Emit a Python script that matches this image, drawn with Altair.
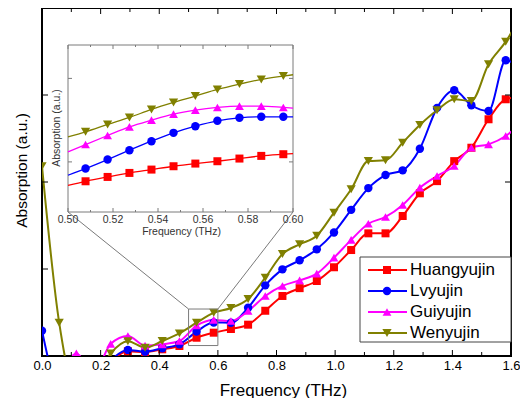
import altair as alt
import pandas as pd

# ---------------- data ----------------
series = ["Huangyujin", "Lvyujin", "Guiyujin", "Wenyujin"]
colors = ["#ff0000", "#0000ff", "#ff00ff", "#808000"]
shapes = ["square", "circle", "triangle-up", "triangle-down"]

freq = [0.0, 0.0586, 0.1172, 0.1758, 0.2344, 0.293, 0.3516, 0.4102, 0.4688, 0.5273,
        0.5859, 0.6445, 0.7031, 0.7617, 0.8203, 0.8789, 0.9375, 0.9961, 1.0547, 1.1133,
        1.1719, 1.2305, 1.2891, 1.3477, 1.4063, 1.4648, 1.5234, 1.582, 1.6406]

huangyujin = [-0.3, -0.6, -0.5, -0.4, -0.08, 0.055, 0.045, 0.077, 0.115, 0.21,
              0.268, 0.31, 0.36, 0.52, 0.69, 0.78, 0.862, 1.02, 1.218, 1.41,
              1.41, 1.609, 1.87, 2.01, 2.24, 2.394, 2.721, 2.951, 2.98]
lvyujin = [0.29, -0.4, -0.5, -0.3, -0.05, 0.07, 0.05, 0.09, 0.134, 0.28,
           0.385, 0.383, 0.555, 0.812, 0.996, 1.1, 1.226, 1.42, 1.68, 1.93,
           2.08, 2.134, 2.383, 2.852, 3.054, 2.882, 2.816, 3.399, 3.25]
guiyujin = [-0.3, -0.2, 0.03, -0.2, 0.14, 0.23, 0.12, 0.134, 0.172, 0.35,
            0.415, 0.402, 0.517, 0.69, 0.805, 0.87, 0.946, 1.13, 1.335, 1.52,
            1.598, 1.736, 1.935, 2.069, 2.184, 2.394, 2.433, 2.529, 2.7]
wenyujin = [2.18, 0.383, -0.4, -0.3, 0.03, 0.17, 0.095, 0.172, 0.26, 0.383,
            0.497, 0.552, 0.655, 0.9, 1.172, 1.284, 1.383, 1.647, 1.916, 2.241,
            2.249, 2.452, 2.655, 2.824, 2.951, 2.931, 3.353, 3.613, 3.95]

# inset (zoom of 0.50-0.60 THz)
inset_freq = [0.5, 0.5078, 0.5176, 0.5273, 0.5371, 0.5469, 0.5566, 0.5664, 0.5762, 0.5859, 0.5957, 0.6]
inset_huangyujin = [0.180, 0.192, 0.205, 0.217, 0.227, 0.237, 0.245, 0.252, 0.260, 0.268, 0.273, 0.275]
inset_lvyujin = [0.210, 0.230, 0.257, 0.285, 0.312, 0.337, 0.357, 0.373, 0.382, 0.385, 0.385, 0.385]
inset_guiyujin = [0.280, 0.302, 0.329, 0.355, 0.375, 0.393, 0.405, 0.413, 0.417, 0.417, 0.413, 0.411]
inset_wenyujin = [0.325, 0.340, 0.362, 0.383, 0.407, 0.428, 0.447, 0.467, 0.483, 0.497, 0.507, 0.511]

x_major = [0.0, 0.2, 0.4, 0.6, 0.8, 1.0, 1.2, 1.4, 1.6]
x_minor = [0.1, 0.3, 0.5, 0.7, 0.9, 1.1, 1.3, 1.5]
y_ticks = [1, 2, 3]
inset_x_major = [0.50, 0.52, 0.54, 0.56, 0.58, 0.60]
inset_x_minor = [0.51, 0.53, 0.55, 0.57, 0.59]
inset_y_ticks = [0.25, 0.5]
zoom_box = {"x0": 0.5, "x1": 0.6, "y0": 0.12, "y1": 0.54}

# ---------------- tables ----------------
main_vals = [huangyujin, lvyujin, guiyujin, wenyujin]
inset_vals = [inset_huangyujin, inset_lvyujin, inset_guiyujin, inset_wenyujin]
df_main = pd.DataFrame([{"series": s, "freq": f, "val": v}
                        for s, vals in zip(series, main_vals) for f, v in zip(freq, vals)])
df_inset = pd.DataFrame([{"series": s, "freq": f, "val": v}
                         for s, vals in zip(series, inset_vals) for f, v in zip(inset_freq, vals)])
df_leg = pd.DataFrame({"series": series})

W, H = 469, 348
IL, IR, IT, IB = 26, 251, 37, 204  # inset placement (pixels inside plot)

xs_main = alt.Scale(domain=[0, 1.6], nice=False, zero=False)
ys_main = alt.Scale(domain=[0, 4], nice=False, zero=False)
xs_in = alt.Scale(domain=[0.5, 0.6], range=[IL, IR], nice=False, zero=False)
ys_in = alt.Scale(domain=[0.1, 0.6], range=[IB, IT], nice=False, zero=False)

color_enc = alt.Color("series:N", scale=alt.Scale(domain=series, range=colors), legend=None)
shape_enc = alt.Shape("series:N", scale=alt.Scale(domain=series, range=shapes), legend=None)
size_enc = alt.Size("series:N", scale=alt.Scale(domain=series, range=[64, 85, 95, 95]), legend=None)
size_in = alt.Size("series:N", scale=alt.Scale(domain=series, range=[13, 17, 18, 18]), legend=None)

# ---------------- main series ----------------
main_lines = alt.Chart(df_main).mark_line(interpolate="monotone", strokeWidth=2, clip=True).encode(
    x=alt.X("freq:Q", scale=xs_main,
            axis=alt.Axis(values=x_major, format=".1f", labelFontSize=13, labelColor="black",
                          labelPadding=3, labelFlush=False, labelOverlap=False, ticks=False,
                          domain=False, grid=False, title="Frequency (THz)", titleFontSize=17,
                          titleFontWeight="normal", titleColor="black", titleX=241, titleY=39,
                          titleBaseline="alphabetic")),
    y=alt.Y("val:Q", scale=ys_main,
            axis=alt.Axis(labels=False, ticks=False, domain=False, grid=False,
                          title="Absorption (a.u.)", titleFontSize=15.5, titleFontWeight="normal",
                          titleColor="black", titleX=-21, titleY=162, titleBaseline="middle",
                          titleAngle=270)),
    color=color_enc,
)
main_points = alt.Chart(df_main).mark_point(filled=True, opacity=1, clip=True).encode(
    x=alt.X("freq:Q", scale=xs_main, axis=None),
    y=alt.Y("val:Q", scale=ys_main, axis=None),
    color=color_enc, shape=shape_enc, size=size_enc,
)

# ---------------- main inward ticks ----------------
def xticks(vals, y0, y1, scale, color="black"):
    return alt.Chart(pd.DataFrame({"t": vals})).mark_rule(color=color, strokeWidth=1).encode(
        x=alt.X("t:Q", scale=scale, axis=None), y=alt.value(y0), y2=alt.value(y1))

def yticks(vals, x0, x1, scale, color="black"):
    return alt.Chart(pd.DataFrame({"t": vals})).mark_rule(color=color, strokeWidth=1).encode(
        y=alt.Y("t:Q", scale=scale, axis=None), x=alt.value(x0), x2=alt.value(x1))

main_ticks = [
    xticks(x_major, H, H - 6, xs_main), xticks(x_minor, H, H - 4, xs_main),
    xticks(x_major, 0, 6, xs_main), xticks(x_minor, 0, 4, xs_main),
    yticks(y_ticks, 0, 6, ys_main), yticks(y_ticks, W, W - 6, ys_main),
]

# ---------------- zoom box + connectors ----------------
df_box = pd.DataFrame([zoom_box])
box = alt.Chart(df_box).mark_rect(fill=None, stroke="#7a7a7a", strokeWidth=1).encode(
    x=alt.X("x0:Q", scale=xs_main, axis=None), x2="x1:Q",
    y=alt.Y("y0:Q", scale=ys_main, axis=None), y2="y1:Q")
conn_left = alt.Chart(df_box).mark_rule(color="#7a7a7a", strokeWidth=1).encode(
    x=alt.X("x0:Q", scale=xs_main, axis=None), y=alt.Y("y1:Q", scale=ys_main, axis=None),
    x2=alt.value(IL), y2=alt.value(IB))
conn_right = alt.Chart(df_box).mark_rule(color="#7a7a7a", strokeWidth=1).encode(
    x=alt.X("x1:Q", scale=xs_main, axis=None), y=alt.Y("y1:Q", scale=ys_main, axis=None),
    x2=alt.value(IR), y2=alt.value(IB))

# ---------------- inset ----------------
one = alt.Data(values=[{"a": 1}])
inset_frame = alt.Chart(one).mark_rect(fill="white", stroke="#7a7a7a", strokeWidth=1).encode(
    x=alt.value(IL), x2=alt.value(IR), y=alt.value(IT), y2=alt.value(IB))
inset_lines = alt.Chart(df_inset).mark_line(interpolate="monotone", strokeWidth=1.3).encode(
    x=alt.X("freq:Q", scale=xs_in, axis=None),
    y=alt.Y("val:Q", scale=ys_in, axis=None),
    color=color_enc,
)
inset_points = alt.Chart(df_inset).transform_filter(
    "datum.freq > 0.501 && datum.freq < 0.599"
).mark_point(filled=True, opacity=1).encode(
    x=alt.X("freq:Q", scale=xs_in, axis=None),
    y=alt.Y("val:Q", scale=ys_in, axis=None),
    color=color_enc, shape=shape_enc, size=size_in,
)
gray = "#7a7a7a"
inset_ticks = [
    xticks(inset_x_major, IB, IB - 4, xs_in, gray), xticks(inset_x_minor, IB, IB - 2, xs_in, gray),
    xticks(inset_x_major, IT, IT + 4, xs_in, gray), xticks(inset_x_minor, IT, IT + 2, xs_in, gray),
    yticks(inset_y_ticks, IL, IL + 4, ys_in, gray), yticks(inset_y_ticks, IR, IR - 4, ys_in, gray),
]
inset_labels = alt.Chart(pd.DataFrame({"t": inset_x_major})).mark_text(
    fontSize=10.5, color="#333333", baseline="middle", align="center").encode(
    x=alt.X("t:Q", scale=xs_in, axis=None), y=alt.value(IB + 8), text=alt.Text("t:Q", format=".2f"))
inset_xtitle = alt.Chart(one).mark_text(
    text="Frequency (THz)", fontSize=10.5, color="#333333", baseline="middle", align="center").encode(
    x=alt.value((IL + IR) / 2 + 1), y=alt.value(IB + 20))
inset_ytitle = alt.Chart(one).mark_text(
    text="Absorption (a.u.)", fontSize=10.5, color="#333333", baseline="middle", align="center",
    angle=270).encode(x=alt.value(IL - 11), y=alt.value(120))

# ---------------- legend ----------------
leg_y = alt.Y("series:N", scale=alt.Scale(type="point", domain=series, range=[262, 325], padding=0),
              axis=None)
leg_box = alt.Chart(one).mark_rect(fill="white", stroke="#444444", strokeWidth=1).encode(
    x=alt.value(318), x2=alt.value(W), y=alt.value(249), y2=alt.value(334))
leg_lines = alt.Chart(df_leg).mark_rule(strokeWidth=2).encode(
    y=leg_y, x=alt.value(326), x2=alt.value(365), color=color_enc)
leg_points = alt.Chart(df_leg).mark_point(filled=True, opacity=1).encode(
    y=leg_y, x=alt.value(345), color=color_enc, shape=shape_enc, size=size_enc)
leg_text = alt.Chart(df_leg).mark_text(fontSize=17, align="left", baseline="middle",
                                       color="black").encode(
    y=leg_y, x=alt.value(368), text="series:N")

chart = alt.layer(
    main_lines, main_points, *main_ticks, box, conn_left, conn_right,
    inset_frame, inset_lines, inset_points, *inset_ticks, inset_labels, inset_xtitle, inset_ytitle,
    leg_box, leg_lines, leg_points, leg_text,
).resolve_scale(
    x="independent", y="independent"
).properties(
    width=W, height=H,
    autosize=alt.AutoSizeParams(type="none"),
    padding={"left": 34, "top": 0, "right": 9, "bottom": 42},
).configure(font="Liberation Sans").configure_view(stroke="black", strokeWidth=2)

chart.save("out.html", embed_options={"renderer": "svg", "actions": False})
